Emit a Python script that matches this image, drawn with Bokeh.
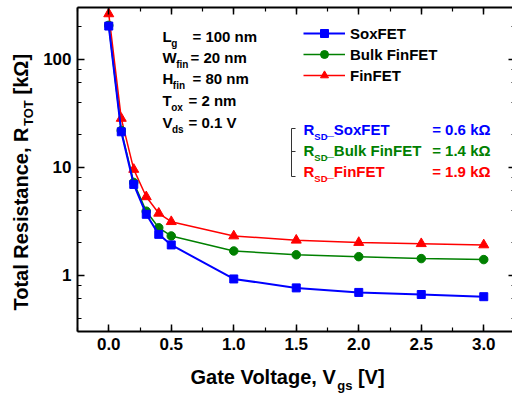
import math
from bokeh.plotting import figure
from bokeh.models import (Range1d, LinearAxis, LogAxis, SingleIntervalTicker, LogTicker,
                          PrintfTickFormatter, CustomJSTickFormatter, Label, Legend,
                          LegendItem, Arrow)
from bokeh.embed import file_html
from bokeh.resources import INLINE

# ---------------- data ----------------
vgs = [0.0, 0.1, 0.2, 0.3, 0.4, 0.5, 1.0, 1.5, 2.0, 2.5, 3.0]
r_soxfet = [202, 21.2, 6.9, 3.65, 2.38, 1.9, 0.92, 0.76, 0.69, 0.66, 0.63]
r_bulk_finfet = [205, 21.8, 7.2, 3.9, 2.74, 2.3, 1.67, 1.54, 1.48, 1.42, 1.39]
r_finfet = [262, 28.2, 9.5, 5.3, 3.73, 3.12, 2.3, 2.1, 2.0, 1.95, 1.9]
series_names = ["SoxFET", "Bulk FinFET", "FinFET"]
rsd_values = ["0.6", "1.4", "1.9"]
x_title = ("Gate Voltage, V", "gs", "[V]")
y_title = ("Total Resistance, R", "TOT", "[k\u03a9]")
params = [("L", "g", "= 100 nm"), ("W", "fin", "= 20 nm"), ("H", "fin", "= 80 nm"),
          ("T", "ox", "= 2 nm"), ("V", "ds", "= 0.1 V")]
x_lim = (-0.25, 3.25)
y_lim = (0.3, 300)

# ---------------- layout ----------------
FONT = "Liberation Sans"
W, H = 512, 394
FL, FT, FB = 77, 7, 331          # plot-box edges in canvas pixels
PX_PER_X = 125.0
PX_PER_DEC = (FB - FT) / math.log10(y_lim[1] / y_lim[0])

xr0 = x_lim[0] - FL / PX_PER_X
xr1 = x_lim[0] + (W - FL) / PX_PER_X
yr1 = 10 ** (math.log10(y_lim[1]) + FT / PX_PER_DEC)
yr0 = 10 ** (math.log10(y_lim[1]) - (H - FT) / PX_PER_DEC)

# Arial bold widths (per 1000 em)
AW = {" ": 278, ",": 278, ".": 278, "=": 584, "[": 333, "]": 333, "_": 556,
      "A": 722, "B": 722, "D": 722, "E": 667, "F": 611, "G": 778, "H": 722, "L": 611,
      "O": 778, "R": 722, "S": 667, "T": 611, "V": 667, "W": 944, "\u03a9": 768,
      "a": 556, "c": 556, "d": 611, "e": 556, "f": 333, "g": 611, "i": 278, "k": 556,
      "l": 278, "m": 889, "n": 611, "o": 611, "r": 389, "s": 556, "t": 333, "u": 611,
      "x": 556}
for d in "0123456789":
    AW[d] = 556


def tw(s, size):
    return sum(AW.get(c, 600) for c in s) * size / 1000.0


p = figure(width=W, height=H, x_range=Range1d(xr0, xr1), y_range=Range1d(yr0, yr1),
           y_axis_type="log", x_axis_location=None, y_axis_location=None,
           output_backend="svg", toolbar_location=None,
           min_border_left=0, min_border_top=0, min_border_right=0, min_border_bottom=0)
p.outline_line_color = None
p.xgrid.visible = False
p.ygrid.visible = False
p.background_fill_color = "white"
p.border_fill_color = "white"


def style_axis(ax, standoff=5):
    ax.axis_line_width = 2
    ax.axis_line_color = "black"
    ax.major_tick_in = 7
    ax.major_tick_out = 0
    ax.minor_tick_in = 4
    ax.minor_tick_out = 0
    ax.major_tick_line_width = 1.5
    ax.minor_tick_line_width = 1.2
    ax.major_label_text_font = FONT
    ax.major_label_text_font_style = "bold"
    ax.major_label_text_font_size = "17px"
    ax.major_label_text_color = "black"
    ax.major_label_standoff = standoff


blank = CustomJSTickFormatter(code="return ''")

bottom = LinearAxis(ticker=SingleIntervalTicker(interval=0.5, num_minor_ticks=2),
                    formatter=PrintfTickFormatter(format="%.1f"),
                    fixed_location=y_lim[0], bounds=x_lim)
style_axis(bottom, 6)
p.add_layout(bottom, "below")

left = LogAxis(ticker=LogTicker(), formatter=PrintfTickFormatter(format="%d"),
               fixed_location=x_lim[0], bounds=y_lim)
style_axis(left, 6)
p.add_layout(left, "left")

top = LinearAxis(ticker=SingleIntervalTicker(interval=0.5, num_minor_ticks=2),
                 formatter=blank, fixed_location=y_lim[1], bounds=x_lim)
style_axis(top)
p.add_layout(top, "above")

right = LogAxis(ticker=LogTicker(), formatter=blank, fixed_location=x_lim[1], bounds=y_lim)
style_axis(right)
p.add_layout(right, "right")

# ---------------- series ----------------
colors = {"SoxFET": "#0000ff", "Bulk FinFET": "#008000", "FinFET": "#ff0000"}
markers = {"SoxFET": "square", "Bulk FinFET": "circle", "FinFET": "triangle"}
msize = {"SoxFET": 8, "Bulk FinFET": 8.5, "FinFET": 10}
lwidth = {"SoxFET": 2, "Bulk FinFET": 1.5, "FinFET": 1.5}
values = {"SoxFET": r_soxfet, "Bulk FinFET": r_bulk_finfet, "FinFET": r_finfet}

rends = {}
for name in ["FinFET", "Bulk FinFET", "SoxFET"]:
    c = colors[name]
    ln = p.line(vgs, values[name], line_color=c, line_width=lwidth[name])
    sc = p.scatter(vgs, values[name], marker=markers[name], size=msize[name],
                   fill_color=c, line_color=c)
    rends[name] = [ln, sc]

legend = Legend(items=[LegendItem(label=n, renderers=rends[n]) for n in series_names],
                location=(303, H - 85), glyph_width=42, glyph_height=20,
                label_height=20, label_standoff=5, spacing=1, padding=0, margin=0,
                border_line_color=None, background_fill_alpha=0,
                label_text_font=FONT, label_text_font_style="bold",
                label_text_font_size="15px", label_text_color="black")
p.add_layout(legend)


# ---------------- text ----------------
def lab(text, px, py, size, color="black", angle=0.0, align="left"):
    if angle == 0.0:
        py = py - 0.4 * size
    else:
        px = px - 0.25 * size
    p.add_layout(Label(x=px, y=H - py, x_units="screen", y_units="screen", text=text,
                       text_font=FONT, text_font_style="bold", text_font_size=f"{size}px",
                       text_color=color, text_baseline="alphabetic", text_align=align,
                       angle=angle))


# x title
x0 = 190
xb = 384
lab(x_title[0], x0, xb, 20)
x1 = x0 + tw(x_title[0], 20)
lab(x_title[1], x1, xb + 6, 13)
lab(x_title[2], x1 + tw(x_title[1], 13) + tw(" ", 20), xb, 20)

# y title (rotated)
y0 = 310
yb = 25
lab(y_title[0], yb, y0, 20, angle=math.pi / 2)
y1 = y0 - tw(y_title[0], 20)
lab(y_title[1], yb + 6, y1, 13, angle=math.pi / 2)
lab(y_title[2], yb, y1 - tw(y_title[1], 13) - tw(" ", 20), 20, angle=math.pi / 2)

# parameter block
pbase = [42, 63, 84, 106, 128]
peq = [192, 190, 192, 188, 188]
for (main, sub, rest), yb_, xe in zip(params, pbase, peq):
    lab(main, 162, yb_, 15)
    lab(sub, 162 + tw(main, 15) - 0.5, yb_ + 5, 10)
    lab(rest, xe, yb_, 15)

# R_SD block
rbase = [135, 156, 177]
for name, val, yb_ in zip(series_names, rsd_values, rbase):
    c = colors[name]
    lab("R", 303, yb_, 15, c)
    lab("SD", 303 + tw("R", 15), yb_ + 5, 9.5, c)
    lab("_" + name, 325, yb_, 15, c)
    lab("= " + val + " k\u03a9", 490, yb_, 15, c, align="right")

# bracket
bx = 291
for (xs, ys, xe, ye) in [(bx, 128, bx, 176), (bx, 128, bx + 4, 128),
                         (bx, 151, bx + 4, 151), (bx, 176, bx + 4, 176)]:
    p.add_layout(Arrow(end=None, x_start=xs, y_start=H - ys, x_end=xe, y_end=H - ye,
                       start_units="screen", end_units="screen",
                       line_color="#333333", line_width=1))

open("out.html", "w").write(file_html(p, INLINE))
